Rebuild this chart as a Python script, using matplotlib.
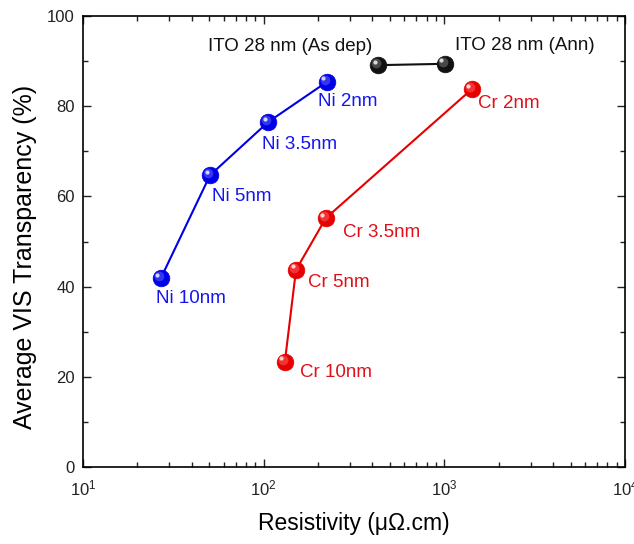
import numpy as np
import matplotlib.pyplot as plt
from matplotlib.transforms import ScaledTranslation
from matplotlib.ticker import LogLocator, MultipleLocator

plt.rcParams['font.family'] = ['Liberation Sans', 'DejaVu Sans']
plt.rcParams['mathtext.fontset'] = 'custom'
plt.rcParams['mathtext.rm'] = 'Liberation Sans'
plt.rcParams['mathtext.it'] = 'Liberation Sans'

# resistivity (uOhm.cm) vs average visible transparency (%)
ni_rho = [27, 50.5, 106, 224]
ni_t = [41.9, 64.7, 76.5, 85.4]
ni_labels = ['Ni 10nm', 'Ni 5nm', 'Ni 3.5nm', 'Ni 2nm']

cr_rho = [131, 151, 221, 1422]
cr_t = [23.3, 43.7, 55.2, 83.8]
cr_labels = ['Cr 10nm', 'Cr 5nm', 'Cr 3.5nm', 'Cr 2nm']

ito_rho = [430, 1007]
ito_t = [89.1, 89.4]
ito_labels = ['ITO 28 nm (As dep)', 'ITO 28 nm (Ann)']

fig = plt.figure(figsize=(6.34, 5.44), dpi=100)
ax = fig.add_axes([83/634, 1-467/544, 542/634, 451/544])


def shift(dx, dy):
    return ax.transData + ScaledTranslation(dx/72, dy/72, fig.dpi_scale_trans)


def balls(x, y, color, light):
    # line + shaded sphere markers
    ax.plot(x, y, '-', color=color, lw=1.5, zorder=2)
    ax.plot(x, y, 'o', color=color, ms=12, mec=color, mew=0.5, zorder=3)
    ax.plot(x, y, 'o', color=light, ms=7, mew=0, alpha=0.55, zorder=4, transform=shift(-1.5, 1.5))
    ax.plot(x, y, 'o', color='white', ms=3, mew=0, alpha=0.8, zorder=5, transform=shift(-2.5, 2.5))


balls(ni_rho, ni_t, '#0000e6', '#6060ff')
balls(cr_rho, cr_t, '#e60000', '#ff6060')
balls(ito_rho, ito_t, '#111111', '#777777')

ni_off = [(-5, -20), (2, -21), (-6, -23), (-9, -20)]
for x, y, s, o in zip(ni_rho, ni_t, ni_labels, ni_off):
    ax.annotate(s, (x, y), xytext=o, textcoords='offset pixels', color='#1414f0',
                fontsize=13.5, ha='left', va='center')

cr_off = [(15, -11), (12, -13), (17, -14), (6, -14)]
for x, y, s, o in zip(cr_rho, cr_t, cr_labels, cr_off):
    ax.annotate(s, (x, y), xytext=o, textcoords='offset pixels', color='#e01018',
                fontsize=13.5, ha='left', va='center')

ax.annotate(ito_labels[0], (ito_rho[0], ito_t[0]), xytext=(-6, 19), textcoords='offset pixels',
            fontsize=13.5, ha='right', va='center', color='#111111')
ax.annotate(ito_labels[1], (ito_rho[1], ito_t[1]), xytext=(10, 18), textcoords='offset pixels',
            fontsize=13.5, ha='left', va='center', color='#111111')

ax.set_xscale('log')
ax.set_xlim(10, 1e4)
ax.set_ylim(0, 100)
ax.xaxis.set_major_locator(LogLocator(base=10, numticks=10))
ax.xaxis.set_minor_locator(LogLocator(base=10, subs=np.arange(2, 10), numticks=20))
ax.yaxis.set_major_locator(MultipleLocator(20))
ax.yaxis.set_minor_locator(MultipleLocator(10))
ax.tick_params(which='both', direction='in', top=True, right=True, labelsize=12, colors='#222222')
ax.tick_params(which='major', length=6, width=1)
ax.tick_params(which='minor', length=3.5, width=1)
ax.tick_params(axis='x', pad=8)
ax.tick_params(axis='y', pad=6)
for sp in ax.spines.values():
    sp.set_linewidth(1.2)

ax.set_xlabel('Resistivity (μΩ.cm)', fontsize=16.5, labelpad=10)
ax.set_ylabel('Average VIS Transparency (%)', fontsize=18)
ax.yaxis.set_label_coords(-0.085, 0.465)

fig.savefig('out.png', dpi=100)
